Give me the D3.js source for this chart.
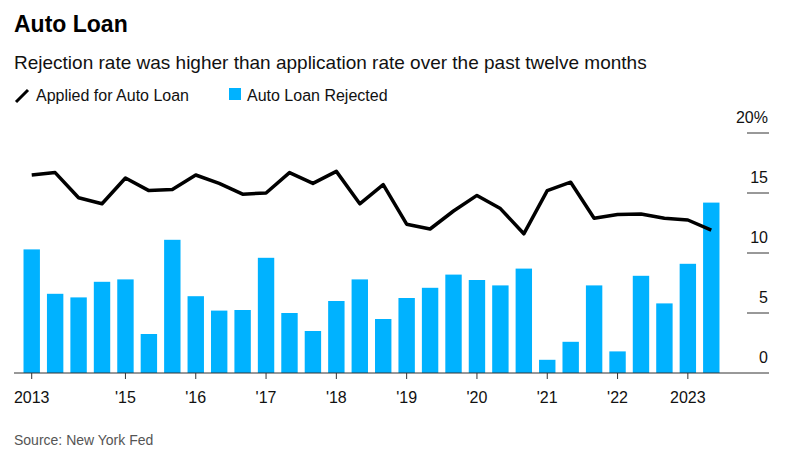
<!DOCTYPE html>
<html><head><meta charset="utf-8">
<script src="https://cdn.jsdelivr.net/npm/d3@7"></script>
<style>
body{margin:0;background:#fff;font-family:"Liberation Sans",Arial,sans-serif;}
</style></head>
<body><svg id="chart"></svg>
<script>
// survey waves: Oct 2013 .. Jun 2023, every four months
const periods = d3.range(30);
const rejected = [10.3,6.6,6.3,7.6,7.8,3.25,11.1,6.4,5.2,5.25,9.6,5.0,3.5,6.0,7.8,4.5,6.25,7.1,8.2,7.75,7.3,8.7,1.1,2.6,7.3,1.8,8.1,5.8,9.1,14.2];
const applied = [16.5,16.7,14.6,14.1,16.25,15.2,15.3,16.5,15.8,14.9,15.0,16.7,15.8,16.8,14.1,15.7,12.4,12.0,13.5,14.8,13.7,11.6,15.2,15.9,12.9,13.2,13.25,12.9,12.75,11.9];
const tickIdx = [0,4,7,10,13,16,19,22,25,28];
const tickLabels = ["2013","'15","'16","'17","'18","'19","'20","'21","'22","2023"];
const yTicks = [0,5,10,15,20];

const W = 803, H = 461;
const svg = d3.select('#chart').attr('width', W).attr('height', H);

const x = d3.scaleBand().domain(periods).range([20, 723]).paddingInner(0.3).paddingOuter(0.15);
const y = d3.scaleLinear().domain([0, 20]).range([373, 133]);

svg.append('text').attr('x', 14).attr('y', 32).attr('font-size', 23).attr('font-weight', 'bold').text('Auto Loan');
svg.append('text').attr('x', 14).attr('y', 69).attr('font-size', 19).attr('fill', '#111')
  .text('Rejection rate was higher than application rate over the past twelve months');

// legend
const lg = svg.append('g').attr('font-size', 16).attr('fill', '#111');
lg.append('line').attr('x1', 16).attr('y1', 102).attr('x2', 28).attr('y2', 90).attr('stroke', '#000').attr('stroke-width', 3);
lg.append('text').attr('x', 36).attr('y', 101).text('Applied for Auto Loan');
lg.append('rect').attr('x', 229).attr('y', 88).attr('width', 12).attr('height', 12).attr('fill', '#00b2ff');
lg.append('text').attr('x', 247).attr('y', 101).text('Auto Loan Rejected');

// right axis
const ya = svg.append('g');
yTicks.forEach(t => {
  if (t > 0) ya.append('line').attr('x1', 747).attr('x2', 769).attr('y1', y(t)).attr('y2', y(t)).attr('stroke', '#333').attr('stroke-width', 1);
  ya.append('text').attr('x', 768).attr('y', y(t) - 10).attr('text-anchor', 'end').attr('font-size', 16).attr('fill', '#111')
    .text(t === 20 ? '20%' : t);
});

svg.selectAll('rect.bar').data(rejected).join('rect').attr('class', 'bar')
  .attr('x', (d, i) => x(i)).attr('width', x.bandwidth())
  .attr('y', d => y(d)).attr('height', d => y(0) - y(d)).attr('fill', '#00b2ff');

svg.append('line').attr('x1', 14).attr('x2', 769).attr('y1', y(0)).attr('y2', y(0)).attr('stroke', '#333');

const cx = i => x(i) + x.bandwidth() / 2;
tickIdx.forEach((ti, k) => {
  svg.append('line').attr('x1', cx(ti)).attr('x2', cx(ti)).attr('y1', y(0)).attr('y2', y(0) + 6).attr('stroke', '#333');
  svg.append('text').attr('x', cx(ti)).attr('y', y(0) + 30).attr('text-anchor', 'middle').attr('font-size', 16).attr('fill', '#111').text(tickLabels[k]);
});

svg.append('path').datum(applied)
  .attr('d', d3.line().x((d, i) => cx(i)).y(d => y(d)))
  .attr('fill', 'none').attr('stroke', '#000').attr('stroke-width', 3.5).attr('stroke-linejoin', 'round');

svg.append('text').attr('x', 14).attr('y', 445).attr('font-size', 14).attr('fill', '#555').text('Source: New York Fed');
</script></body></html>
